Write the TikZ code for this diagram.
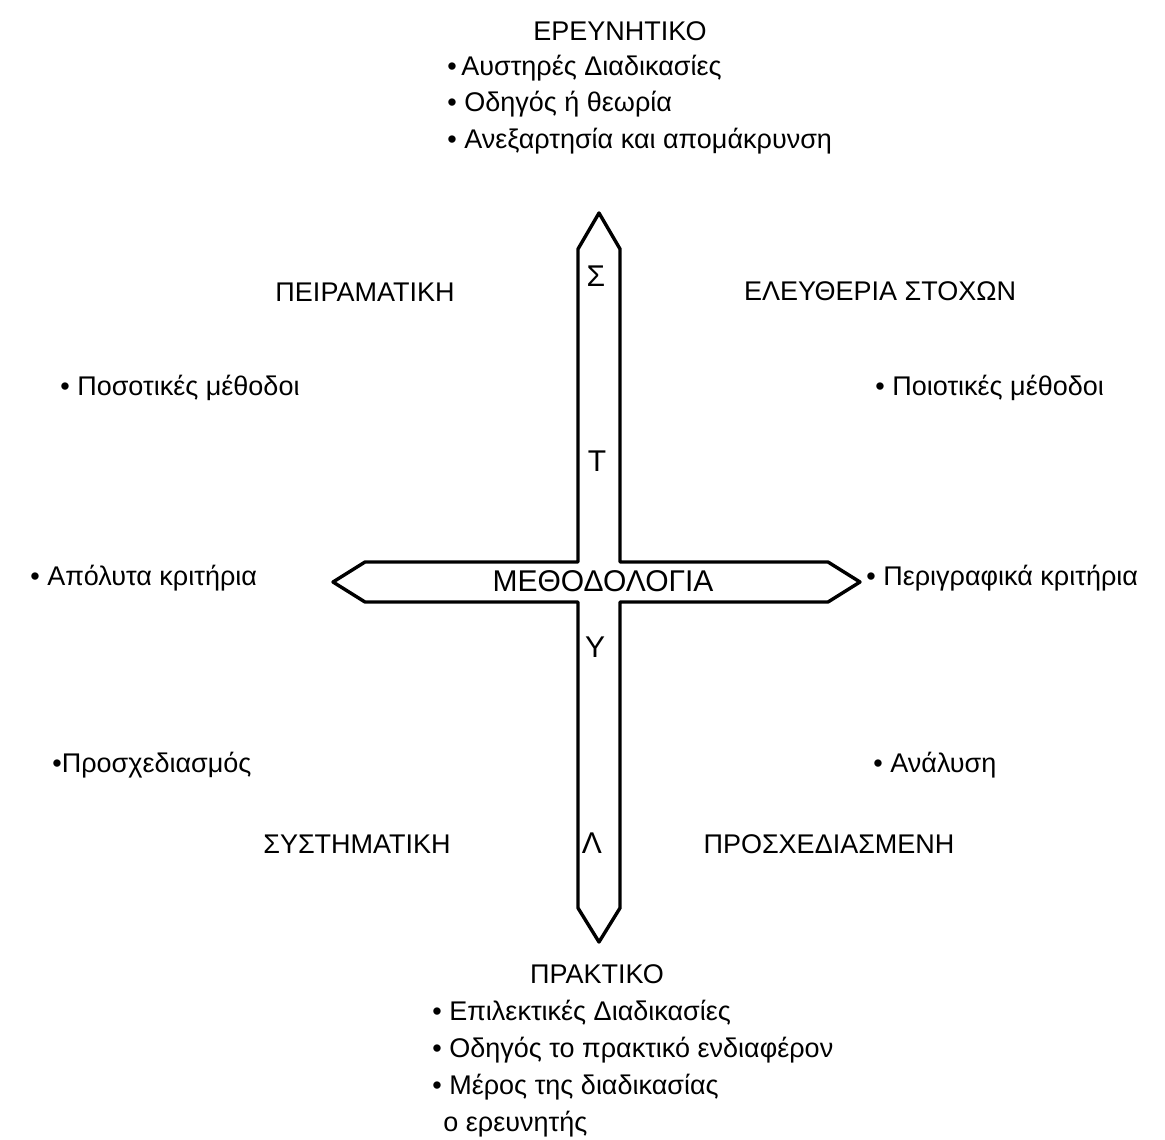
\documentclass[tikz,border=0pt]{standalone}
\usepackage{fontspec}
\setmainfont{Liberation Sans}
\usetikzlibrary{positioning}

\begin{document}
\begin{tikzpicture}[x=0.5pt,y=-0.5pt,every node/.style={font=\fontsize{13.5}{15}\selectfont,inner sep=0pt},
  head/.style={anchor=center},item/.style={anchor=west},
  big/.style={anchor=center,font=\fontsize{15}{17}\selectfont}]
\useasboundingbox (0,0) rectangle (1165,1139);
% the cross
\draw[line width=1.7pt,line join=round] (599,213)--(620,249)--(620,562)--(828,562)--(860,582)--(828,602)--(620,602)--(620,908)--(599,942)--(578,908)--(578,602)--(365,602)--(333,582)--(365,562)--(578,562)--(578,249)--cycle;
\node[big] (meth) at (603,581) {ΜΕΘΟΔΟΛΟΓΙΑ};
\node[big] (s) at (596,276) {Σ};
\node[big] (t) at (597,461) {Τ};
\node[big] (u) at (595,647) {Υ};
\node[big] (l) at (592,843) {Λ};
% top
\node[head] (erev) at (620,31) {ΕΡΕΥΝΗΤΙΚΟ};
\node[item] (e1) at (447,68) {•\,Αυστηρές Διαδικασίες};
\node[item] (e2) at (447,104) {• Οδηγός ή θεωρία};
\node[item] (e3) at (447,141) {• Ανεξαρτησία και απομάκρυνση};
% corners
\node[head] (peir) at (365,292) {ΠΕΙΡΑΜΑΤΙΚΗ};
\node[head] (elef) at (880,291) {ΕΛΕΥΘΕΡΙΑ ΣΤΟΧΩΝ};
\node[head] (syst) at (357,844) {ΣΥΣΤΗΜΑΤΙΚΗ};
\node[head] (pros) at (829,844) {ΠΡΟΣΧΕΔΙΑΣΜΕΝΗ};
% sides
\node[item] (posot) at (60,388) {• Ποσοτικές μέθοδοι};
\node[item] (poiot) at (875,388) {• Ποιοτικές μέθοδοι};
\node[item] (apol) at (30,578) {• Απόλυτα κριτήρια};
\node[item] (perig) at (866,578) {• Περιγραφικά κριτήρια};
\node[item] (prosx) at (52,765) {•Προσχεδιασμός};
\node[item] (anal) at (873,765) {• Ανάλυση};
% bottom
\node[head] (prakt) at (597,974) {ΠΡΑΚΤΙΚΟ};
\node[item] (p1) at (432,1013) {• Επιλεκτικές Διαδικασίες};
\node[item] (p2) at (432,1050) {• Οδηγός το πρακτικό ενδιαφέρον};
\node[item] (p3) at (432,1087) {• Μέρος της διαδικασίας};
\node[item] (p4) at (443,1124) {ο ερευνητής};
\end{tikzpicture}
\end{document}
